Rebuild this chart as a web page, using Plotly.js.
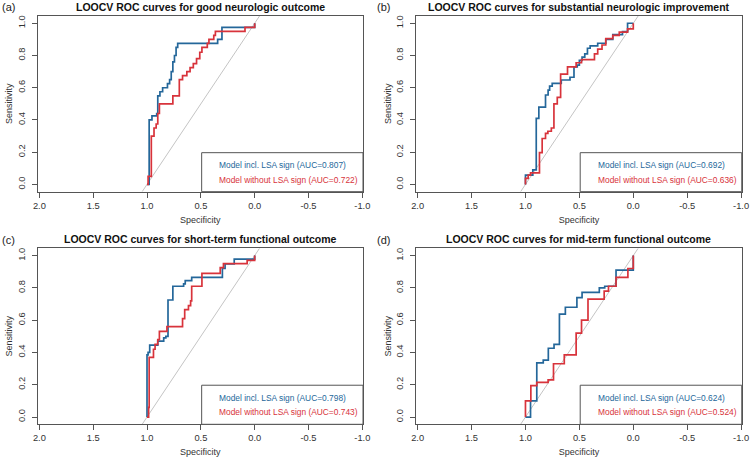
<!DOCTYPE html>
<html><head><meta charset="utf-8">
<script src="https://cdn.plot.ly/plotly-3.0.1.min.js"></script>
<style>html,body{margin:0;padding:0;background:#fff}#chart{width:750px;height:460px}</style>
</head><body><div id="chart"></div><script>
// ---- data ----
const panelLabels = ['(a)', '(b)', '(c)', '(d)'];
const panelTitles = [
  'LOOCV ROC curves for good neurologic outcome',
  'LOOCV ROC curves for substantial neurologic improvement',
  'LOOCV ROC curves for short-term functional outcome',
  'LOOCV ROC curves for mid-term functional outcome'
];
const seriesNames = ['Model incl. LSA sign', 'Model without LSA sign'];
const aucIncl = ['0.807', '0.692', '0.798', '0.624'];
const aucWithout = ['0.722', '0.636', '0.743', '0.524'];
const xTickVals = [2, 1.5, 1, 0.5, 0, -0.5, -1];
const xTickText = ['2.0', '1.5', '1.0', '0.5', '0.0', '-0.5', '-1.0'];
const yTickVals = [0, 0.2, 0.4, 0.6, 0.8, 1];
const yTickText = ['0.0', '0.2', '0.4', '0.6', '0.8', '1.0'];

// (a) good neurologic outcome
const specIncl_a = [1, 0.98, 0.954, 0.91, 0.90, 0.88, 0.855, 0.81, 0.79, 0.775, 0.76, 0.745, 0.73, 0.715, 0.344, 0.304, 0];
const sensIncl_a = [0, 0.40, 0.425, 0.44, 0.55, 0.575, 0.60, 0.625, 0.65, 0.70, 0.76, 0.80, 0.85, 0.875, 0.90, 0.975, 1.0];
const specWo_a = [1, 0.99, 0.96, 0.935, 0.915, 0.90, 0.885, 0.76, 0.70, 0.67, 0.63, 0.60, 0.57, 0.54, 0.51, 0.49, 0.44, 0.425, 0.38, 0.365, 0.09, 0];
const sensWo_a = [0, 0.05, 0.30, 0.35, 0.375, 0.44, 0.50, 0.55, 0.65, 0.675, 0.70, 0.725, 0.75, 0.78, 0.82, 0.85, 0.875, 0.90, 0.925, 0.95, 0.975, 1.0];

// (b) substantial neurologic improvement
const specIncl_b = [1, 1, 0.932, 0.90, 0.876, 0.814, 0.79, 0.776, 0.752, 0.668, 0.587, 0.55, 0.52, 0.50, 0.475, 0.45, 0.425, 0.40, 0.33, 0.255, 0.19, 0.10, 0.053, 0];
const sensIncl_b = [0, 0.058, 0.09, 0.41, 0.48, 0.555, 0.585, 0.61, 0.627, 0.648, 0.665, 0.73, 0.74, 0.77, 0.79, 0.81, 0.845, 0.86, 0.876, 0.90, 0.93, 0.948, 1.0, 1.0];
const specWo_b = [1, 1, 0.975, 0.953, 0.87, 0.845, 0.814, 0.792, 0.76, 0.736, 0.705, 0.674, 0.61, 0.53, 0.48, 0.36, 0.33, 0.29, 0.255, 0.19, 0.13, 0.053, 0];
const sensWo_b = [0, 0.037, 0.058, 0.072, 0.197, 0.285, 0.317, 0.33, 0.35, 0.50, 0.54, 0.685, 0.73, 0.755, 0.775, 0.81, 0.84, 0.865, 0.905, 0.925, 0.945, 0.965, 1.0];

// (c) short-term functional outcome
const specIncl_c = [1, 1, 0.99, 0.975, 0.90, 0.845, 0.825, 0.805, 0.76, 0.66, 0.645, 0.585, 0.30, 0.275, 0.19, 0];
const sensIncl_c = [0, 0.385, 0.40, 0.445, 0.47, 0.49, 0.50, 0.725, 0.81, 0.825, 0.845, 0.865, 0.92, 0.948, 0.978, 1.0];
const specWo_c = [1, 0.985, 0.98, 0.94, 0.925, 0.90, 0.885, 0.815, 0.67, 0.65, 0.615, 0.595, 0.585, 0.49, 0.32, 0.29, 0.07, 0];
const sensWo_c = [0, 0.06, 0.37, 0.42, 0.45, 0.48, 0.53, 0.56, 0.61, 0.665, 0.69, 0.72, 0.81, 0.89, 0.925, 0.95, 0.97, 1.0];

// (d) mid-term functional outcome
const specIncl_d = [1, 0.953, 0.895, 0.835, 0.788, 0.735, 0.685, 0.63, 0.523, 0.475, 0.315, 0.265, 0.16, 0];
const sensIncl_d = [0, 0.10, 0.335, 0.352, 0.426, 0.45, 0.638, 0.68, 0.74, 0.772, 0.80, 0.81, 0.91, 1.0];
const specWo_d = [1, 1, 0.95, 0.895, 0.79, 0.74, 0.64, 0.53, 0.48, 0.42, 0.27, 0.23, 0.16, 0.05, 0];
const sensWo_d = [0, 0.10, 0.195, 0.215, 0.23, 0.33, 0.385, 0.52, 0.60, 0.73, 0.78, 0.81, 0.865, 0.92, 1.0];

// ---- styling / layout ----
const FONT = 'Liberation Sans, Arial, Helvetica, sans-serif';
const BLUE = '#24679a';
const RED = '#d8333b';
const AXC = '#555555';

const curves = [
  [specIncl_a, sensIncl_a, specWo_a, sensWo_a],
  [specIncl_b, sensIncl_b, specWo_b, sensWo_b],
  [specIncl_c, sensIncl_c, specWo_c, sensWo_c],
  [specIncl_d, sensIncl_d, specWo_d, sensWo_d]
];
const xDom = [[0.0503, 0.484], [0.5547, 0.989], [0.0503, 0.484], [0.5547, 0.989]];
const yDom = [[0.5833, 0.9652], [0.5833, 0.9652], [0.0776, 0.4602], [0.0776, 0.4602]];
const labelPos = [[0.0, 0.9854], [0.5, 0.9854], [0.0, 0.4783], [0.5, 0.4783]];

const traces = [];
const layout = {
  width: 750, height: 460,
  margin: {l: 0, r: 0, t: 0, b: 0},
  paper_bgcolor: '#ffffff', plot_bgcolor: '#ffffff',
  showlegend: false,
  font: {family: FONT, color: '#222'},
  shapes: [], annotations: []
};

for (let i = 0; i < 4; i++) {
  const sfx = i === 0 ? '' : String(i + 1);
  const xa = 'x' + sfx, ya = 'y' + sfx;
  const c = curves[i];
  traces.push({x: c[0], y: c[1], xaxis: xa, yaxis: ya, type: 'scatter', mode: 'lines',
    name: seriesNames[0], line: {color: BLUE, width: 1.7, shape: 'hv'}, hoverinfo: 'skip'});
  traces.push({x: c[2], y: c[3], xaxis: xa, yaxis: ya, type: 'scatter', mode: 'lines',
    name: seriesNames[1], line: {color: RED, width: 1.7, shape: 'hv'}, hoverinfo: 'skip'});

  layout['xaxis' + sfx] = {
    domain: xDom[i], anchor: ya, range: [2.015, -1.006],
    tickmode: 'array', tickvals: xTickVals, ticktext: xTickText,
    showgrid: false, zeroline: false, showline: true, mirror: true,
    linecolor: AXC, linewidth: 1, ticks: 'outside', ticklen: 5, tickcolor: AXC,
    tickfont: {size: 9.3, color: '#333', family: FONT},
    title: {text: 'Specificity', font: {size: 9, color: '#333', family: FONT}, standoff: 6},
    fixedrange: true
  };
  layout['yaxis' + sfx] = {
    domain: yDom[i], anchor: xa, range: [-0.045, 1.045],
    tickmode: 'array', tickvals: yTickVals, ticktext: yTickText, tickangle: -90,
    ticklabelstandoff: 3,
    showgrid: false, zeroline: false, showline: true, mirror: true,
    linecolor: AXC, linewidth: 1, ticks: 'outside', ticklen: 5, tickcolor: AXC,
    tickfont: {size: 9.3, color: '#333', family: FONT},
    title: {text: 'Sensitivity', font: {size: 9, color: '#333', family: FONT}, standoff: 2},
    fixedrange: true
  };

  // chance diagonal
  layout.shapes.push({type: 'line', xref: xa, yref: ya, x0: 1.045, y0: -0.045, x1: -0.045, y1: 1.045,
    line: {color: '#c4c4c4', width: 1}, layer: 'below'});
  // legend box
  layout.shapes.push({type: 'rect', xref: xa + ' domain', yref: ya + ' domain',
    x0: 0.504, x1: 1.0, y0: 0, y1: 0.222, line: {color: AXC, width: 1}, fillcolor: '#ffffff', layer: 'above'});

  layout.annotations.push({xref: xa + ' domain', yref: ya + ' domain', x: 0.552, y: 0.152,
    xanchor: 'left', yanchor: 'middle', showarrow: false,
    text: seriesNames[0] + ' (AUC=' + aucIncl[i] + ')', font: {size: 8.4, color: BLUE, family: FONT}});
  layout.annotations.push({xref: xa + ' domain', yref: ya + ' domain', x: 0.552, y: 0.069,
    xanchor: 'left', yanchor: 'middle', showarrow: false,
    text: seriesNames[1] + ' (AUC=' + aucWithout[i] + ')', font: {size: 8.4, color: RED, family: FONT}});

  // panel title
  layout.annotations.push({xref: xa + ' domain', yref: ya + ' domain', x: 0.5, y: 1,
    xanchor: 'center', yanchor: 'middle', yshift: 9, showarrow: false,
    text: panelTitles[i], font: {size: 10.5, color: '#111', family: FONT, weight: 'bold'}});
  // panel label
  layout.annotations.push({xref: 'paper', yref: 'paper', x: labelPos[i][0], y: labelPos[i][1],
    xanchor: 'left', yanchor: 'middle', showarrow: false,
    text: panelLabels[i], font: {size: 11, color: '#222', family: FONT}});
}

Plotly.newPlot('chart', traces, layout, {displayModeBar: false, staticPlot: true});
</script></body></html>
